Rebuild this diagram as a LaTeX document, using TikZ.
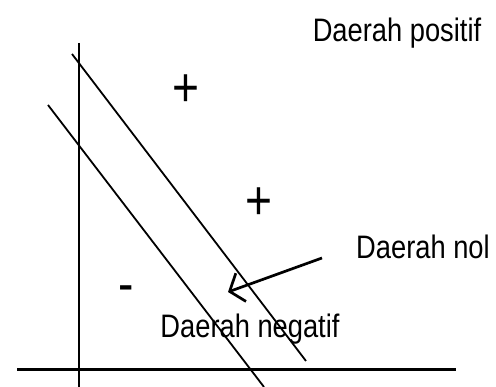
\documentclass[tikz,border=0pt]{standalone}
\usepackage{fontspec}
\setmainfont{Liberation Sans}
\newfontfamily\narrowsans[FakeStretch=0.84]{Liberation Sans}
\usepackage{tikz}
\usetikzlibrary{arrows.meta}

\begin{document}
\begin{tikzpicture}[x=1pt, y=-1pt,
    region/.style={font=\narrowsans\fontsize{32.5}{34}\selectfont, inner sep=0pt, anchor=base},
    sign/.style={font=\narrowsans\fontsize{55}{55}\selectfont, inner sep=0pt},
    boundary/.style={line width=1.8pt}]
    \useasboundingbox (0,0) rectangle (496,387);

    % Axes
    \coordinate (ytop) at (79,43);
    \coordinate (ybot) at (79,387);
    \coordinate (xleft) at (17,370);
    \coordinate (xright) at (456,370);
    \draw[line width=2pt] (ytop) -- (ybot);
    \draw[line width=3pt] (xleft) -- (xright);

    % Boundary lines
    \coordinate (upA) at (72,54);
    \coordinate (upB) at (306,361);
    \coordinate (loA) at (48,105);
    \coordinate (loB) at (264,387);
    \draw[boundary] (upA) -- (upB);
    \draw[boundary] (loA) -- (loB);

    % Region labels
    \node[region] (pos) at (397,42) {Daerah positif};
    \node[region] (nol) at (423,259) {Daerah nol};
    \node[region] (neg) at (250,338) {Daerah negatif};

    % Signs
    \node[sign] (plusA) at (185.5,90.5) {+};
    \node[sign] (plusB) at (259,204) {+};
    \node[sign] (minus) at (126.5,294.5) {-};

    % Arrow into the zero region
    \coordinate (arrstart) at (322,258);
    \coordinate (arrtip) at (228,292);
    \draw[line width=2.7pt, -{Straight Barb[length=12pt, width=30pt]}] (arrstart) -- (arrtip);
\end{tikzpicture}
\end{document}
